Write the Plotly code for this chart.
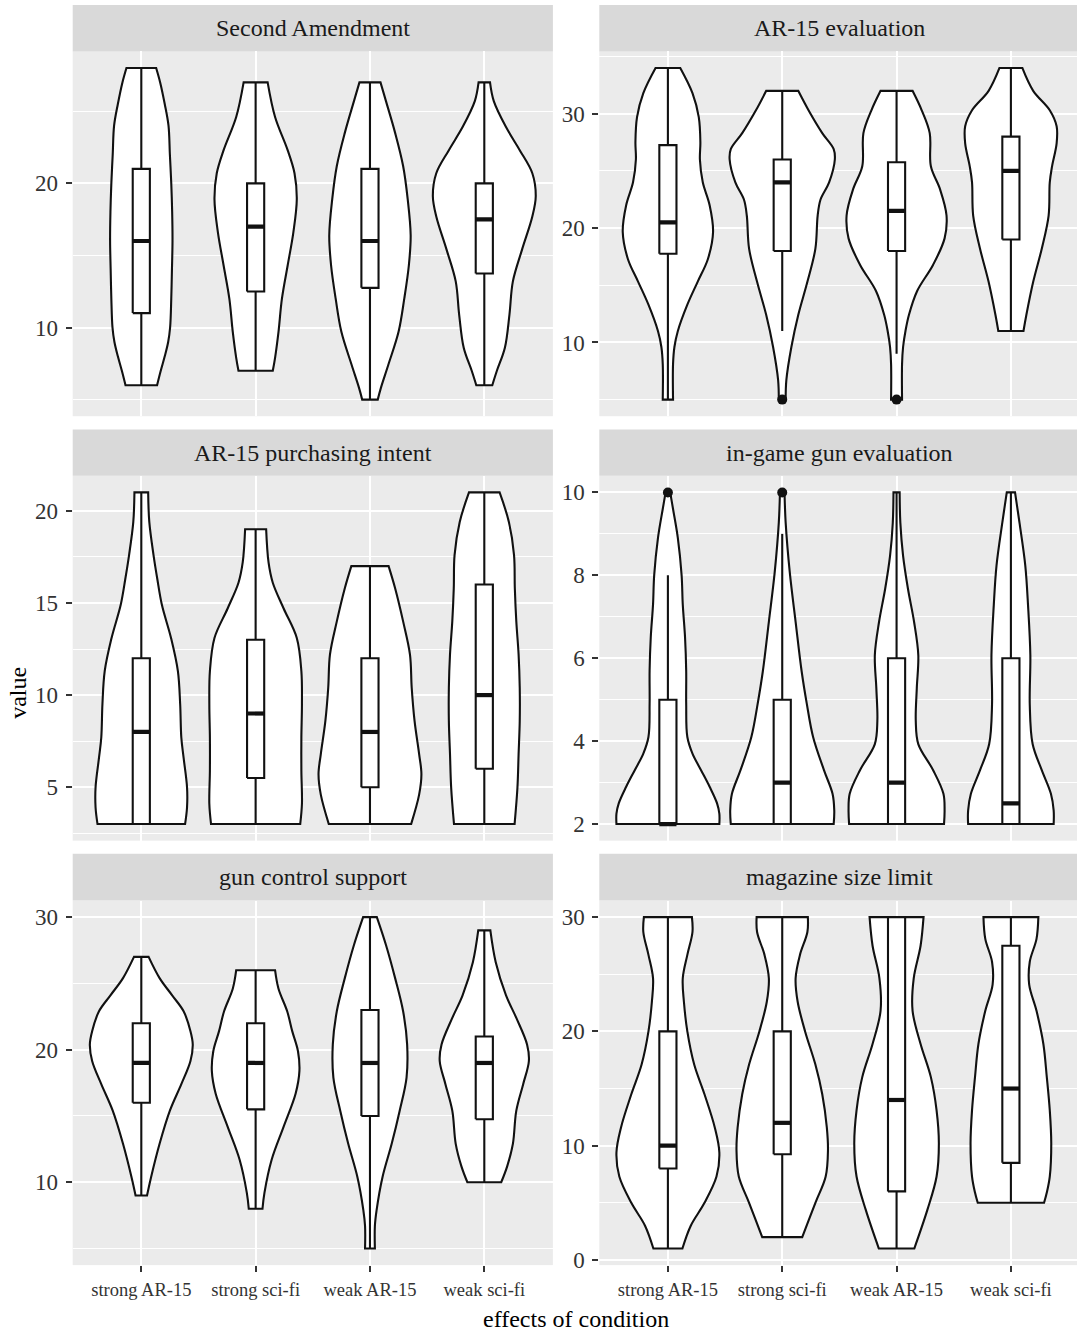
import plotly.graph_objects as go

# ---------------- data ----------------
conditions = ["strong AR-15", "strong sci-fi", "weak AR-15", "weak sci-fi"]
panel_titles = ["Second Amendment", "AR-15 evaluation", "AR-15 purchasing intent",
                "in-game gun evaluation", "gun control support", "magazine size limit"]

# box-plot statistics (rows = panels, columns = conditions)
whisker_low = [[6, 7, 5, 6], [5, 11, 9, 11], [3, 3, 3, 3],
               [2, 2, 2, 2], [9, 8, 5, 10], [1, 2, 1, 5]]
q1 = [[11, 12.5, 12.75, 13.75], [17.75, 18, 18, 19], [3, 5.5, 5, 6],
      [2, 2, 2, 2], [16, 15.5, 15, 14.75], [8, 9.25, 6, 8.5]]
median = [[16, 17, 16, 17.5], [20.5, 24, 21.5, 25], [8, 9, 8, 10],
          [2, 3, 3, 2.5], [19, 19, 19, 19], [10, 12, 14, 15]]
q3 = [[21, 20, 21, 20], [27.25, 26, 25.75, 28], [12, 13, 12, 16],
      [5, 5, 6, 6], [22, 22, 23, 21], [20, 20, 30, 27.5]]
whisker_high = [[28, 27, 27, 27], [34, 32, 32, 34], [21, 19, 17, 21],
                [8, 9, 10, 10], [27, 26, 30, 29], [30, 30, 30, 30]]
outliers = [[[], [], [], []], [[], [5], [5], []], [[], [], [], []],
            [[10], [10], [], []], [[], [], [], []], [[], [], [], []]]

# violin density profiles: (values, half-widths in category units)
violin_second_amendment = [
    ([6, 7, 8, 9, 10, 12, 14, 16, 18, 20, 22, 24, 25.5, 27, 28],
     [0.138, 0.17, 0.205, 0.235, 0.252, 0.262, 0.268, 0.273, 0.27, 0.262, 0.25, 0.238, 0.205, 0.165, 0.13]),
    ([7, 7.9, 9.7, 12, 14.3, 16.6, 18.9, 20.7, 22.3, 24.6, 27],
     [0.15, 0.17, 0.2, 0.23, 0.28, 0.33, 0.36, 0.34, 0.28, 0.17, 0.105]),
    ([5, 5.8, 7.4, 9.7, 12, 14.3, 16.4, 18.9, 21.2, 23.5, 25.7, 27],
     [0.068, 0.095, 0.16, 0.25, 0.3, 0.34, 0.356, 0.33, 0.29, 0.22, 0.14, 0.092]),
    ([6, 7, 8.6, 10.9, 13.2, 15.4, 17.7, 19.1, 20.7, 22.3, 23.9, 25.7, 27],
     [0.07, 0.11, 0.18, 0.22, 0.25, 0.33, 0.42, 0.45, 0.42, 0.31, 0.19, 0.083, 0.05]),
]
violin_ar15_evaluation = [
    ([5, 8.1, 9.6, 11, 13.3, 15.3, 17.3, 19.65, 22, 24, 26, 27.5, 29.7, 31.8, 34],
     [0.045, 0.045, 0.057, 0.087, 0.17, 0.26, 0.35, 0.395, 0.365, 0.305, 0.28, 0.284, 0.27, 0.215, 0.108]),
    ([5, 6.7, 9.6, 12.4, 15.3, 18.2, 21.1, 22.5, 24, 26, 26.9, 28.3, 30.3, 32],
     [0.03, 0.036, 0.08, 0.14, 0.22, 0.29, 0.31, 0.335, 0.41, 0.46, 0.45, 0.35, 0.23, 0.14]),
    ([5, 8.1, 9.6, 11, 12.4, 14.5, 16.8, 19.1, 21.1, 23.4, 25.4, 28.3, 30.3, 32],
     [0.048, 0.048, 0.057, 0.078, 0.108, 0.18, 0.32, 0.42, 0.437, 0.38, 0.3, 0.29, 0.22, 0.14]),
    ([11, 12.4, 15.3, 18.2, 21.1, 24, 25.4, 27.4, 28.9, 30.3, 32, 34],
     [0.11, 0.135, 0.195, 0.27, 0.33, 0.34, 0.36, 0.4, 0.4, 0.34, 0.195, 0.1]),
]
violin_purchasing_intent = [
    ([3, 3.9, 5, 6.6, 7.7, 9.5, 11.3, 13.1, 14.9, 16.3, 17.6, 19.4, 21],
     [0.383, 0.4, 0.4, 0.37, 0.35, 0.34, 0.32, 0.26, 0.18, 0.14, 0.107, 0.07, 0.06]),
    ([3, 4.1, 5.9, 7.7, 9.5, 11.3, 13.1, 14.7, 16.1, 17.2, 19],
     [0.39, 0.405, 0.4, 0.4, 0.405, 0.4, 0.36, 0.245, 0.15, 0.113, 0.092]),
    ([3, 4.6, 5.7, 6.8, 8.6, 10.4, 12.2, 14, 15.8, 17],
     [0.36, 0.43, 0.45, 0.43, 0.39, 0.365, 0.35, 0.29, 0.22, 0.163]),
    ([3, 5, 6.8, 8.6, 10.4, 12.2, 14, 15.8, 17.6, 19.4, 21],
     [0.265, 0.29, 0.3, 0.31, 0.31, 0.3, 0.28, 0.267, 0.26, 0.215, 0.134]),
]
violin_ingame_gun = [
    ([2, 2.25, 2.5, 2.9, 3.3, 3.7, 4.1, 4.9, 5.7, 6.5, 7.3, 8, 8.9, 9.6, 10],
     [0.45, 0.45, 0.43, 0.365, 0.29, 0.215, 0.17, 0.16, 0.16, 0.15, 0.13, 0.12, 0.087, 0.045, 0.02]),
    ([2, 2.33, 2.73, 3.3, 4.1, 4.9, 5.68, 6.88, 8.07, 9.27, 10],
     [0.45, 0.455, 0.44, 0.365, 0.27, 0.215, 0.17, 0.117, 0.066, 0.03, 0.02]),
    ([2, 2.33, 2.73, 3.3, 3.93, 4.49, 5.28, 6.08, 6.88, 7.67, 8.47, 9.27, 10],
     [0.415, 0.42, 0.41, 0.32, 0.19, 0.168, 0.177, 0.19, 0.153, 0.1, 0.057, 0.033, 0.027]),
    ([2, 2.33, 2.73, 3.3, 3.93, 4.88, 6.08, 7.27, 8.23, 9.27, 10],
     [0.374, 0.374, 0.35, 0.27, 0.19, 0.165, 0.17, 0.15, 0.126, 0.075, 0.036]),
]
violin_gun_control = [
    ([9, 10.4, 12.9, 15.4, 17.4, 19.15, 20.4, 21.4, 22.9, 24.1, 25.4, 27],
     [0.05, 0.086, 0.16, 0.25, 0.35, 0.43, 0.45, 0.43, 0.37, 0.27, 0.16, 0.064]),
    ([8, 9.2, 11.7, 14.2, 16.7, 18.4, 19.9, 21.4, 22.9, 24.6, 26],
     [0.06, 0.077, 0.14, 0.245, 0.35, 0.383, 0.37, 0.32, 0.276, 0.2, 0.17]),
    ([5, 6.7, 7.9, 10.4, 12.9, 15.4, 17.9, 20.4, 22.9, 25.4, 27.9, 30],
     [0.043, 0.043, 0.058, 0.11, 0.19, 0.26, 0.32, 0.325, 0.29, 0.22, 0.14, 0.06]),
    ([10, 11.2, 12.9, 15.4, 17.4, 19.15, 20.4, 22.4, 24.1, 26.6, 29],
     [0.148, 0.2, 0.25, 0.28, 0.34, 0.39, 0.374, 0.28, 0.19, 0.1, 0.053]),
]
violin_magazine_limit = [
    ([1, 3, 5, 7.3, 9.4, 11.6, 14.5, 17.1, 20, 22.6, 24.65, 26.7, 28.7, 30],
     [0.127, 0.2, 0.32, 0.425, 0.45, 0.41, 0.32, 0.23, 0.17, 0.14, 0.13, 0.17, 0.215, 0.21]),
    ([2, 5, 7.3, 9.6, 11.6, 14.5, 17.1, 20, 22.6, 24.65, 26.7, 28.7, 30],
     [0.175, 0.29, 0.38, 0.4, 0.39, 0.35, 0.29, 0.2, 0.135, 0.117, 0.155, 0.22, 0.224]),
    ([1, 4.4, 7.3, 10.2, 13.1, 16, 18.9, 21.8, 24.65, 27.5, 30],
     [0.155, 0.27, 0.35, 0.37, 0.35, 0.3, 0.21, 0.14, 0.15, 0.21, 0.236]),
    ([5, 5.9, 7.3, 10.2, 13.1, 16, 18.9, 21.8, 24.1, 26.1, 28.1, 30],
     [0.29, 0.314, 0.34, 0.353, 0.34, 0.314, 0.284, 0.224, 0.16, 0.165, 0.224, 0.24]),
]
violins = [violin_second_amendment, violin_ar15_evaluation, violin_purchasing_intent,
           violin_ingame_gun, violin_gun_control, violin_magazine_limit]
major_dtick = [10, 10, 5, 2, 10, 10]

# ---------------- layout geometry ----------------
W, H = 1077, 1339
col_px = [(72.7, 552.9), (599.3, 1077.0)]
row_px = [(51.7, 418.7), (478.7, 845.7), (906.0, 1272.7)]
strip_px = [(5.0, 51.7), (432.0, 478.7), (859.0, 906.0)]
unit_px = (col_px[0][1] - col_px[0][0]) / 4.2

FONT = "Liberation Serif, Times New Roman, serif"
BOX_HALF = 0.075
LINE_W = 2.1
INK = "#111111"

fig = go.Figure()
layout = dict(width=W, height=H, margin=dict(l=0, r=0, t=0, b=0),
              paper_bgcolor="white", plot_bgcolor="#EBEBEB", showlegend=False,
              font=dict(family=FONT, color="#000000"))
shapes, annotations = [], []

for p in range(6):
    row, col = p // 2, p % 2
    sfx = "" if p == 0 else str(p + 1)
    xa, ya = "x" + sfx, "y" + sfx
    x0, x1 = col_px[col]
    top, bot = row_px[row]
    xmax = 0.4 + (x1 - x0) / unit_px

    # y range from data (ggplot-style 5% expansion)
    vals = []
    for lv, _ in violins[p]:
        vals += lv
    for o in outliers[p]:
        vals += o
    lo, hi = min(vals), max(vals)
    pad = 0.05 * (hi - lo)

    bottom_row = row == 2
    layout["xaxis" + sfx] = dict(
        domain=[x0 / W, x1 / W], anchor=ya, range=[0.4, xmax],
        tickvals=[1, 2, 3, 4], ticktext=conditions if bottom_row else [""] * 4,
        showticklabels=bottom_row, ticks="outside" if bottom_row else "",
        ticklen=6, tickwidth=2, tickcolor="#333333", ticklabelstandoff=2,
        tickfont=dict(family=FONT, size=18.5, color="#333333"),
        showgrid=True, gridcolor="white", gridwidth=2, zeroline=False,
        showline=False, fixedrange=True)
    layout["yaxis" + sfx] = dict(
        domain=[1 - bot / H, 1 - top / H], anchor=xa, range=[lo - pad, hi + pad],
        tick0=0, dtick=major_dtick[p], ticks="outside", ticklen=6, tickwidth=2,
        tickcolor="#333333", ticklabelstandoff=3,
        tickfont=dict(family=FONT, size=23, color="#333333"),
        showgrid=True, gridcolor="white", gridwidth=2, zeroline=False,
        minor=dict(dtick=major_dtick[p] / 2, tick0=0, showgrid=True,
                   gridcolor="white", gridwidth=1, ticks=""),
        showline=False, fixedrange=True)

    # strip
    s0, s1 = strip_px[row]
    shapes.append(dict(type="rect", xref="paper", yref="paper",
                       x0=x0 / W, x1=x1 / W, y0=1 - s1 / H, y1=1 - s0 / H,
                       fillcolor="#D9D9D9", line=dict(width=0), layer="below"))
    strip_center = (x0 + x0 + 4.2 * unit_px) / 2
    annotations.append(dict(text=panel_titles[p], xref="paper", yref="paper",
                            x=strip_center / W, y=1 - (s0 + s1) / 2 / H, showarrow=False,
                            xanchor="center", yanchor="middle",
                            font=dict(family=FONT, size=24, color="#1A1A1A")))

    for c in range(4):
        cx = c + 1
        lv, wd = violins[p][c]
        # violin outline: right side up, flat top, left side down, flat bottom
        vx = [cx + wd[0]] + [cx + w for w in wd] + [cx + wd[-1], cx - wd[-1]] + \
             [cx - w for w in reversed(wd)] + [cx - wd[0], cx + wd[0], cx + wd[0]]
        vy = [lv[0]] + list(lv) + [lv[-1], lv[-1]] + list(reversed(lv)) + [lv[0], lv[0], lv[0]]
        fig.add_trace(go.Scatter(x=vx, y=vy, xaxis=xa, yaxis=ya, mode="lines",
                                 fill="toself", fillcolor="white",
                                 line=dict(color=INK, width=LINE_W, shape="spline",
                                           smoothing=1, simplify=False),
                                 hoverinfo="skip"))
        # whiskers
        fig.add_trace(go.Scatter(x=[cx, cx, None, cx, cx],
                                 y=[whisker_low[p][c], q1[p][c], None, q3[p][c], whisker_high[p][c]],
                                 xaxis=xa, yaxis=ya, mode="lines",
                                 line=dict(color=INK, width=LINE_W), hoverinfo="skip"))
        # box
        fig.add_trace(go.Scatter(x=[cx - BOX_HALF, cx + BOX_HALF, cx + BOX_HALF, cx - BOX_HALF, cx - BOX_HALF],
                                 y=[q1[p][c], q1[p][c], q3[p][c], q3[p][c], q1[p][c]],
                                 xaxis=xa, yaxis=ya, mode="lines", fill="toself", fillcolor="white",
                                 line=dict(color=INK, width=LINE_W), hoverinfo="skip"))
        # median
        fig.add_trace(go.Scatter(x=[cx - BOX_HALF, cx + BOX_HALF], y=[median[p][c], median[p][c]],
                                 xaxis=xa, yaxis=ya, mode="lines",
                                 line=dict(color=INK, width=4.2), hoverinfo="skip"))
        # outliers
        if outliers[p][c]:
            fig.add_trace(go.Scatter(x=[cx] * len(outliers[p][c]), y=outliers[p][c],
                                     xaxis=xa, yaxis=ya, mode="markers",
                                     marker=dict(color=INK, size=10), hoverinfo="skip"))

# axis titles
annotations.append(dict(text="value", xref="paper", yref="paper", x=18 / W, y=1 - 697 / H,
                        showarrow=False, textangle=-90, xanchor="center", yanchor="middle",
                        font=dict(family=FONT, size=24, color="#000000")))
annotations.append(dict(text="effects of condition", xref="paper", yref="paper",
                        x=576 / W, y=1 - 1327 / H, showarrow=False,
                        xanchor="center", yanchor="middle",
                        font=dict(family=FONT, size=24, color="#000000")))

layout["shapes"] = shapes
layout["annotations"] = annotations
fig.update_layout(**layout)

page_fix = (
    "var d=document.documentElement, b=document.body;"
    "d.style.margin='0px'; d.style.padding='0px'; d.style.overflow='hidden';"
    "d.style.height='%dpx';"
    "b.style.margin='0px'; b.style.padding='0px'; b.style.overflow='hidden';"
    "b.style.height='%dpx'; b.style.width='%dpx';"
    "var w=document.getElementById('{plot_id}'); if(w&&w.parentNode){"
    "w.parentNode.style.margin='0px'; w.parentNode.style.lineHeight='0';"
    "w.parentNode.style.height='%dpx'; w.parentNode.style.overflow='hidden';}"
) % (H, H, W, H)
fig.write_html("out.html",
               config={"displayModeBar": False, "staticPlot": True},
               post_script=page_fix)
